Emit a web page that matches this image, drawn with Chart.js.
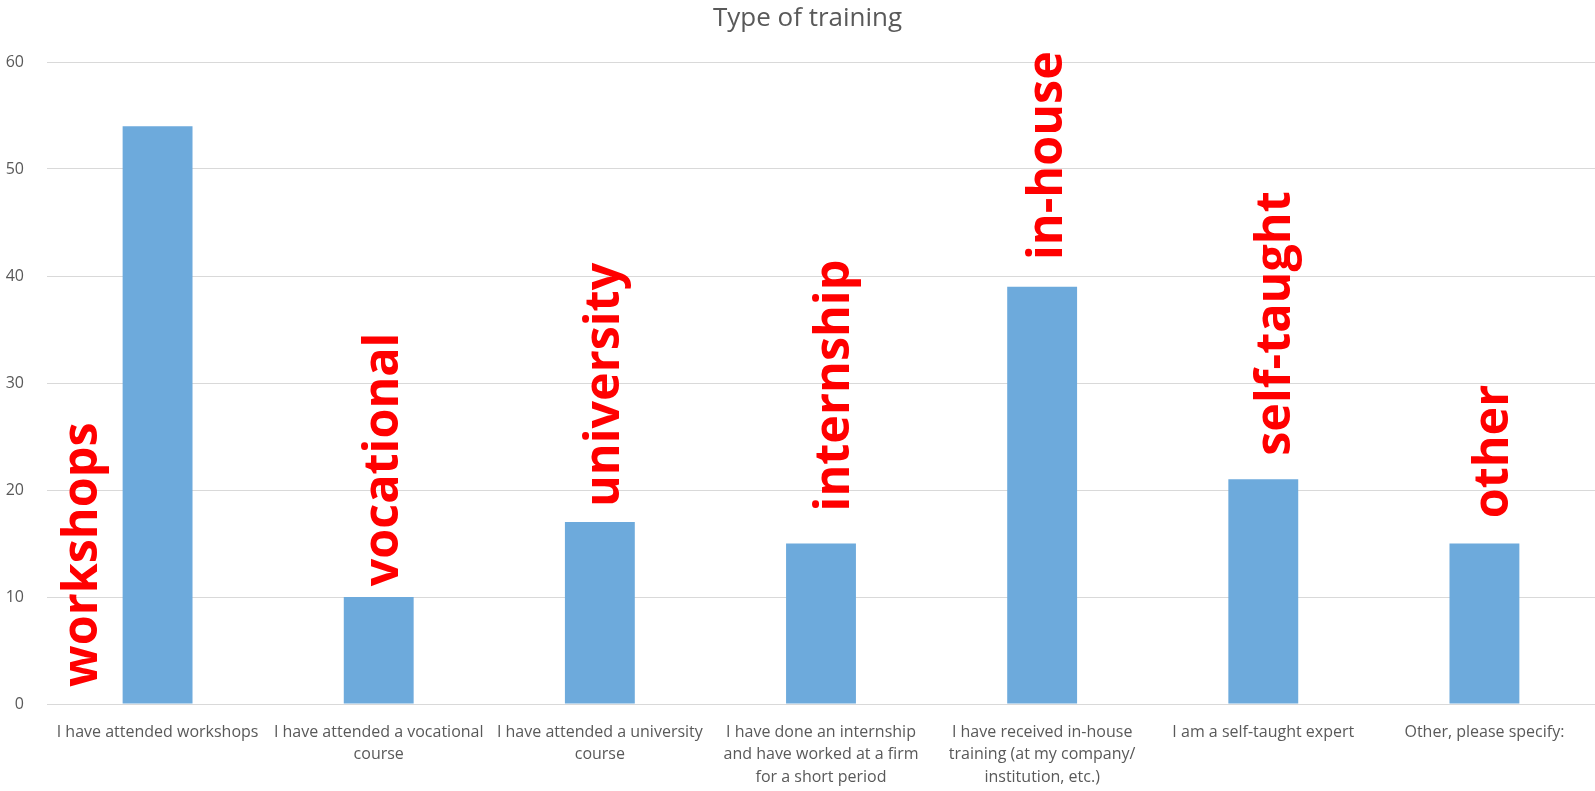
<!DOCTYPE html>
<html>
<head>
<meta charset="utf-8">
<script src="https://cdn.jsdelivr.net/npm/chart.js@4"></script>
<style>
  html, body { margin: 0; padding: 0; background: #ffffff; }
  #wrap { width: 1595px; height: 791px; }
</style>
</head>
<body>
<div id="wrap"><canvas id="trainingChart" width="1595" height="791"></canvas></div>
<script>
// chart data
const categories = [
    ["I have attended workshops"],
    ["I have attended a vocational", "course"],
    ["I have attended a university", "course"],
    ["I have done an internship", "and have worked at a firm", "for a short period"],
    ["I have received in-house", "training (at my company/", "institution, etc.)"],
    ["I am a self-taught expert"],
    ["Other, please specify:"]
];
const counts = [54, 10, 17, 15, 39, 21, 15];
const tagWords = ["workshops", "vocational", "university", "internship", "in-house", "self-taught", "other"];

const titleText = "Type of training";
const greyText = "#595959";
const gridGrey = "#d9d9d9";

// where each red word starts: shift in category units, y in data units
const tagPlacement = [
    { dx: -0.274, y: 1.6 },
    { dx: 0.088, y: 11.0 },
    { dx: 0.088, y: 18.4 },
    { dx: 0.128, y: 18.0 },
    { dx: 0.092, y: 41.5 },
    { dx: 0.120, y: 23.2 },
    { dx: 0.106, y: 17.35 }
];

// title drawn by hand: the original sits a little right of the canvas centre
const chartTitle = {
    id: "chartTitle",
    afterDraw(chart) {
        const ctx = chart.ctx;
        ctx.save();
        ctx.fillStyle = greyText;
        ctx.font = "26px 'Open Sans'";
        ctx.textAlign = "center";
        ctx.textBaseline = "middle";
        ctx.fillText(titleText, chart.width / 2 + 10, 18.6);
        ctx.restore();
    }
};

// red rotated words over the bars
const redTags = {
    id: "redTags",
    afterDatasetsDraw(chart) {
        const ctx = chart.ctx;
        const xs = chart.scales.x;
        const ys = chart.scales.y;
        ctx.save();
        ctx.fillStyle = "#ff0000";
        ctx.font = "bold 48.5px 'Open Sans'";
        ctx.textAlign = "left";
        ctx.textBaseline = "alphabetic";
        tagWords.forEach((word, i) => {
            const p = tagPlacement[i];
            const x = xs.getPixelForValue(i + p.dx);
            const y = ys.getPixelForValue(p.y);
            ctx.save();
            ctx.translate(x, y);
            ctx.rotate(-Math.PI / 2);
            ctx.fillText(word, 0, 0);
            ctx.restore();
        });
        ctx.restore();
    }
};

const ctx = document.getElementById("trainingChart").getContext("2d");
new Chart(ctx, {
    type: "bar",
    data: {
        labels: categories,
        datasets: [
            {
                label: titleText,
                data: counts,
                backgroundColor: "#6daadc",
                borderWidth: 0,
                categoryPercentage: 1,
                barPercentage: 0.316
            }
        ]
    },
    options: {
        responsive: false,
        animation: false,
        layout: { padding: { left: 0, right: 0, top: 62, bottom: 0 } },
        plugins: {
            legend: { display: false },
            tooltip: { enabled: false },
            title: { display: false }
        },
        scales: {
            x: {
                grid: { display: false, drawTicks: false },
                border: { display: true, color: gridGrey, width: 1 },
                ticks: {
                    color: greyText,
                    font: { family: "Open Sans", size: 16, lineHeight: 1.4 },
                    autoSkip: false,
                    maxRotation: 0,
                    minRotation: 0,
                    padding: 17
                },
                afterFit(scale) { scale.height = 87; }
            },
            y: {
                min: 0,
                max: 60,
                ticks: {
                    stepSize: 10,
                    color: greyText,
                    font: { family: "Open Sans", size: 16 },
                    padding: 23
                },
                grid: { color: gridGrey, lineWidth: 1, drawTicks: false },
                border: { display: false },
                afterFit(scale) { scale.width = 47; }
            }
        }
    },
    plugins: [redTags, chartTitle]
});
</script>
</body>
</html>
